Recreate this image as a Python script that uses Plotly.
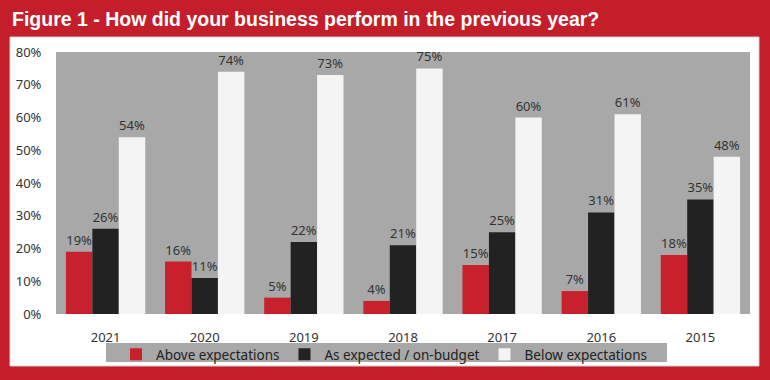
import plotly.graph_objects as go

years = ["2021", "2020", "2019", "2018", "2017", "2016", "2015"]
above = [19, 16, 5, 4, 15, 7, 18]
as_expected = [26, 11, 22, 21, 25, 31, 35]
below = [54, 74, 73, 75, 60, 61, 48]
series_names = ["Above expectations", "As expected / on-budget", "Below expectations"]
colors = ["#c8202c", "#222222", "#f4f4f4"]
y_ticks = [0, 10, 20, 30, 40, 50, 60, 70, 80]

W, H = 770, 380
L, R, T, B = 56, 20, 52, 66
pw, ph = W - L - R, H - T - B

def px(x):
    return (x - L) / pw

def py(y):
    return (H - B - y) / ph

FONT = "Noto Sans, sans-serif"

fig = go.Figure()
for name, vals, col in zip(series_names, [above, as_expected, below], colors):
    fig.add_trace(go.Bar(
        x=years, y=vals, name=name, marker=dict(color=col, line=dict(width=0)),
        text=[f"{v}%" for v in vals], textposition="outside",
        textfont=dict(family=FONT, size=13, color="#333333"),
        cliponaxis=False,
    ))

fig.update_layout(
    width=W, height=H,
    margin=dict(l=L, r=R, t=T, b=B, autoexpand=False),
    paper_bgcolor="#c41e2b",
    plot_bgcolor="#a8a8a8",
    barmode="group", bargap=0.2, bargroupgap=0,
    showlegend=True,
    legend=dict(orientation="h", xref="container", yref="container",
                x=116 / W, y=(H - 339) / H, xanchor="left", yanchor="top",
                bgcolor="rgba(0,0,0,0)", font=dict(family=FONT, size=13.5, color="#222222"),
                itemwidth=30, tracegroupgap=0),
    xaxis=dict(showgrid=False, showline=False, ticks="outside", ticklen=11, automargin=False,
               tickcolor="rgba(0,0,0,0)",
               tickfont=dict(family=FONT, size=13, color="#333333")),
    yaxis=dict(range=[0, 80], tickvals=y_ticks, ticktext=[f"{v}%" for v in y_ticks],
               showgrid=False, zeroline=False, showline=False, ticks="outside", ticklen=11,
               automargin=False, tickcolor="rgba(0,0,0,0)",
               tickfont=dict(family=FONT, size=13, color="#333333")),
    shapes=[
        dict(type="rect", xref="paper", yref="paper", layer="below",
             x0=px(10), x1=px(759), y0=py(366), y1=py(37),
             fillcolor="#ffffff", line=dict(color="#cfcfcf", width=1)),
        dict(type="rect", xref="paper", yref="paper", layer="below",
             x0=0, x1=px(750), y0=0, y1=1,
             fillcolor="#a8a8a8", line=dict(width=0)),
        dict(type="rect", xref="paper", yref="paper", layer="below",
             x0=px(106), x1=px(667), y0=py(362), y1=py(343),
             fillcolor="#a8a8a8", line=dict(width=0)),
    ],
    annotations=[
        dict(text="<b>Figure 1 - How did your business perform in the previous year?</b>",
             xref="paper", yref="paper", x=px(10), y=py(19), xanchor="left", yanchor="middle",
             showarrow=False,
             font=dict(family="Liberation Sans, Arial, sans-serif", size=19.5, color="#ffffff")),
    ],
)

fig.write_html("out.html", config={"displayModeBar": False},
               post_script="document.body.style.margin='0';")
